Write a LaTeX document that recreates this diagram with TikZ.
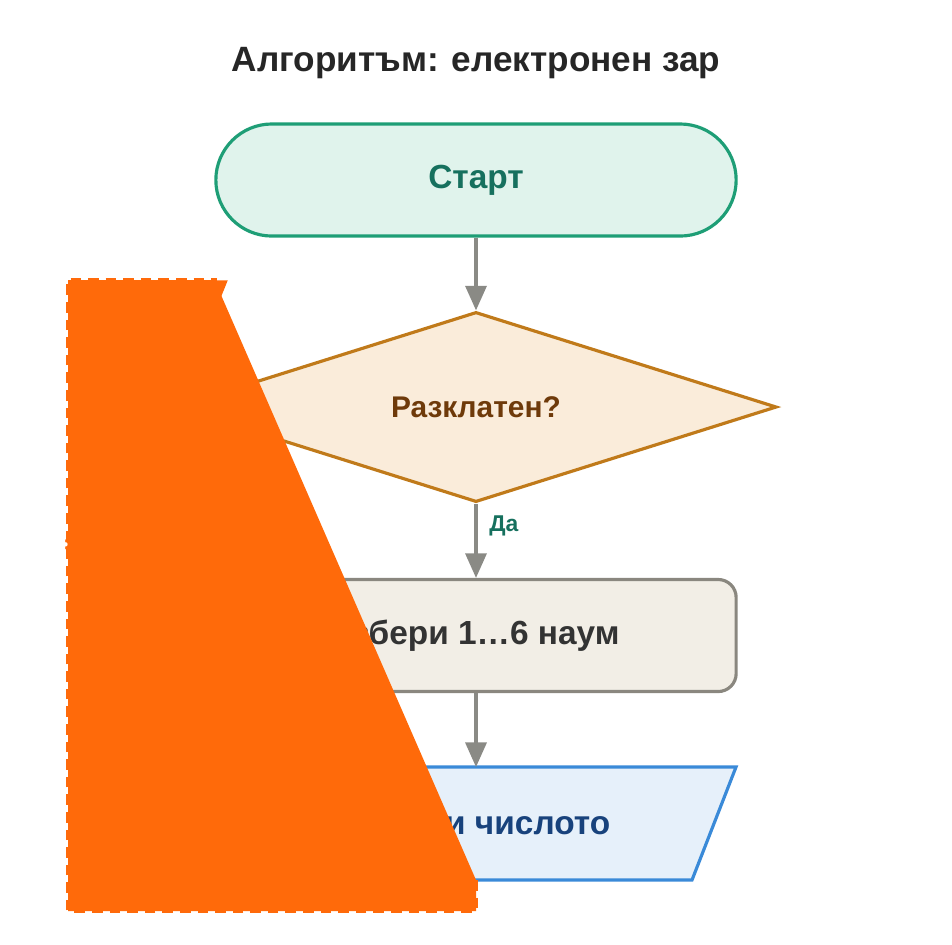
\documentclass[tikz,border=0pt]{standalone}
\usepackage{fontspec}
\setmainfont{Liberation Sans}
\usetikzlibrary{arrows.meta,shapes.geometric}
\definecolor{flowgrey}{HTML}{8A8A85}
\definecolor{repeatorange}{HTML}{FF6A0A}
\tikzset{
  flow/.style={line width=0.9pt,draw=flowgrey,-{Triangle[width=6pt,length=7pt]}},
  box/.style={line width=0.9pt,minimum width=5.2cm,minimum height=1.12cm,font=\bfseries\fontsize{9.5}{11}\selectfont}
}
\begin{document}
\begin{tikzpicture}[x=0.01cm,y=-0.01cm]
\useasboundingbox (0,0) rectangle (952,944);
\node[font=\bfseries\fontsize{10}{12}\selectfont,text=black!85] (title) at (476,63) {Алгоритъм: електронен зар};
% start
\node[box,rounded corners=0.56cm,draw={rgb,255:red,30;green,158;blue,118},fill={rgb,255:red,224;green,243;blue,236},text={rgb,255:red,22;green,112;blue,94}] (start) at (476,180) {Старт};
% decision
\node[diamond,line width=0.9pt,draw={rgb,255:red,192;green,122;blue,26},fill={rgb,255:red,250;green,236;blue,218},text={rgb,255:red,110;green,58;blue,10},
  minimum width=6.01cm,minimum height=1.9cm,aspect=3.16,inner sep=0pt,font=\bfseries\fontsize{8.5}{10}\selectfont] (shake) at (476,407) {Разклатен?};
% process
\node[box,rounded corners=0.18cm,draw={rgb,255:red,138;green,135;blue,127},fill={rgb,255:red,242;green,238;blue,230},text=black!80] (pick) at (476,635.5) {избери 1…6 наум};
% output
\draw[line width=0.9pt,draw={rgb,255:red,58;green,138;blue,216},fill={rgb,255:red,230;green,240;blue,250}]
  (216,880) -- (260,767) -- (736,767) -- (692,880) -- cycle;
\node[box,text={rgb,255:red,24;green,66;blue,124}] (show) at (476,823.5) {Покажи числото};
\draw[flow] (start) -- (shake);
\draw[flow] (shake) -- node[right,pos=0.3,font=\bfseries\fontsize{6.5}{8}\selectfont,text={rgb,255:red,22;green,112;blue,94}] {Да} (pick);
\draw[flow] (pick) -- (476,767);
% loop
\coordinate (back) at (215,312);
\draw[draw=repeatorange,fill=repeatorange,line width=0.9pt,dash pattern=on 3pt off 2pt,-{Triangle[width=7pt,length=9pt]}]
  (476,880) -- (476,911) -- (68,911) -- (68,280) -- (215,280) -- (back);
\node[rotate=90,font=\bfseries\fontsize{7}{8}\selectfont,text=repeatorange] (again) at (77,595) {повтаряй};
\end{tikzpicture}
\end{document}
